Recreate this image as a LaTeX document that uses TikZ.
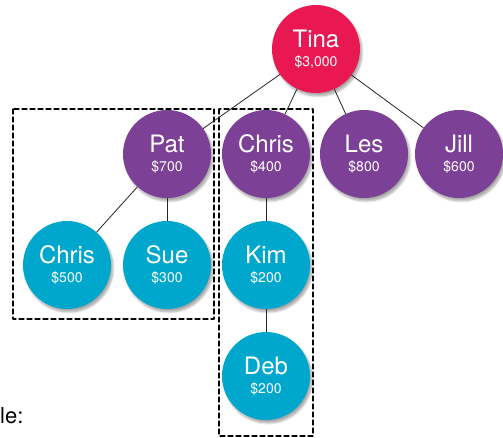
\documentclass[tikz,border=0pt]{standalone}
\usepackage{fontspec}
\setmainfont{TeX Gyre Heros}
\usetikzlibrary{shadows.blur}
\definecolor{tinared}{RGB}{234,24,82}
\definecolor{bosspurple}{RGB}{124,64,150}
\definecolor{teamblue}{RGB}{0,167,205}
\begin{document}
\begin{tikzpicture}[x=1pt, y=-1pt, line join=round, line cap=round,
	member/.style={circle, minimum size=88pt, inner sep=0pt, text=white, align=center,
		font=\fontsize{24}{24}\selectfont,
		blur shadow={shadow xshift=2pt, shadow yshift=-3pt, shadow blur steps=8, shadow opacity=35}},
	top/.style={member, fill=tinared},
	mid/.style={member, fill=bosspurple},
	low/.style={member, fill=teamblue},
	tie/.style={draw=black!85, line width=0.8pt},
	team/.style={draw=black, line width=1.1pt, dash pattern=on 5pt off 3pt}]
	\useasboundingbox (0,0) rectangle (503,437);
	% dashed groups
	\draw[team] (13,109) rectangle (214,319);
	\draw[team] (219,109) rectangle (313,436);
	% people
	\node[top] (tina) at (316,49) {Tina\\[-5pt]\fontsize{14}{14}\selectfont \$3,000};
	\node[mid] (pat) at (167,154) {Pat\\[-5pt]\fontsize{14}{14}\selectfont \$700};
	\node[mid] (chrisb) at (266,154) {Chris\\[-5pt]\fontsize{14}{14}\selectfont \$400};
	\node[mid] (les) at (364,154) {Les\\[-5pt]\fontsize{14}{14}\selectfont \$800};
	\node[mid] (jill) at (459,154) {Jill\\[-5pt]\fontsize{14}{14}\selectfont \$600};
	\node[low] (chrisa) at (67,265) {Chris\\[-5pt]\fontsize{14}{14}\selectfont \$500};
	\node[low] (sue) at (167,265) {Sue\\[-5pt]\fontsize{14}{14}\selectfont \$300};
	\node[low] (kim) at (266,265) {Kim\\[-5pt]\fontsize{14}{14}\selectfont \$200};
	\node[low] (deb) at (266,376) {Deb\\[-5pt]\fontsize{14}{14}\selectfont \$200};
	% ties
	\draw[tie] (tina) -- (pat);
	\draw[tie] (tina) -- (chrisb);
	\draw[tie] (tina) -- (les);
	\draw[tie] (tina) -- (jill);
	\draw[tie] (pat) -- (chrisa);
	\draw[tie] (pat) -- (sue);
	\draw[tie] (chrisb) -- (kim);
	\draw[tie] (kim) -- (deb);
	\node[anchor=base west, inner sep=0pt] (cut) at (0,423) {\fontsize{22}{24}\selectfont le:};
\end{tikzpicture}
\end{document}
